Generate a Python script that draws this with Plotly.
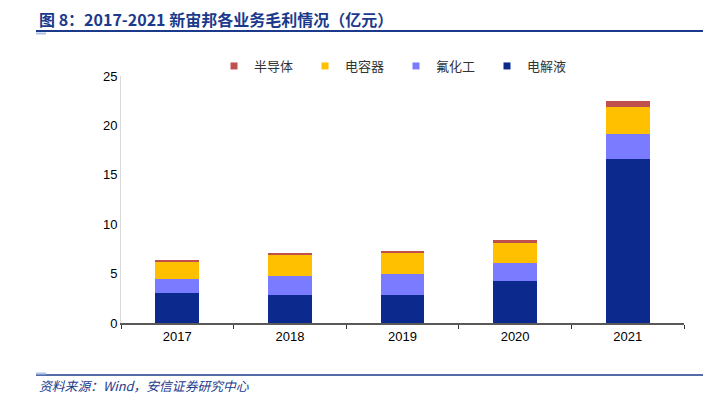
import plotly.graph_objects as go

years = ["2017", "2018", "2019", "2020", "2021"]
electrolyte = [3.0, 2.86, 2.86, 4.25, 16.6]
fluoro = [1.45, 1.86, 2.13, 1.82, 2.56]
capacitor = [1.8, 2.19, 2.09, 2.06, 2.7]
semiconductor = [0.14, 0.17, 0.24, 0.32, 0.61]

series = [
    ("电解液", electrolyte, "#0C2A8E"),
    ("氟化工", fluoro, "#7B7BFF"),
    ("电容器", capacitor, "#FFC000"),
    ("半导体", semiconductor, "#C0504D"),
]

fig = go.Figure()
for name, vals, color in series:
    fig.add_trace(go.Bar(x=years, y=vals, name=name, marker=dict(color=color, line=dict(width=0)),
                         width=0.39, showlegend=False))
# legend entries with small square swatches
for name, vals, color in reversed(series):
    fig.add_trace(go.Scatter(x=[None], y=[None], mode="markers", name=name,
                             marker=dict(symbol="square", size=7, color=color)))

L, R, T, B = 121, 26, 76, 76
W, H = 710, 399
pw, ph = W - L - R, H - T - B

def px(x):
    return (x - L) / pw

def py(y):
    return (H - B - y) / ph

navy = "#1B3A8C"
fig.update_layout(
    width=W, height=H, barmode="stack",
    margin=dict(l=L, r=R, t=T, b=B),
    plot_bgcolor="white", paper_bgcolor="white",
    font=dict(family="Liberation Sans, Noto Sans CJK SC, sans-serif", size=13, color="#000"),
    showlegend=True,
    legend=dict(orientation="h", traceorder="normal", x=px(214), y=py(66), xanchor="left", yanchor="middle",
                font=dict(family="Noto Sans CJK SC", size=13, color="#333"), entrywidth=46, itemwidth=30,
                bgcolor="rgba(0,0,0,0)"),
    xaxis=dict(type="category", showline=True, linecolor="#595959", linewidth=2, tickson="boundaries",
               ticks="outside", ticklen=4, tickcolor="#333", tickwidth=1, showgrid=False,
               tickfont=dict(size=13)),
    yaxis=dict(range=[0, 25], dtick=5, showline=True, linecolor="#D9D9D9", linewidth=1, showgrid=False,
               ticks="", zeroline=False, tickfont=dict(size=13)),
)

fig.add_annotation(xref="paper", yref="paper", x=px(37), y=py(19), xanchor="left", yanchor="middle",
                   text="<b>图 8：2017-2021 新宙邦各业务毛利情况（亿元）</b>", showarrow=False,
                   font=dict(family="Noto Sans CJK SC", size=16, color=navy))
fig.add_annotation(xref="paper", yref="paper", x=px(37), y=py(385), xanchor="left", yanchor="middle",
                   text="<i>资料来源：Wind，安信证券研究中心</i>", showarrow=False,
                   font=dict(family="Noto Sans CJK SC", size=12.8, color=navy))

fig.add_shape(type="line", xref="paper", yref="paper", x0=px(36), x1=px(703), y0=py(31), y1=py(31),
              line=dict(color=navy, width=2))
fig.add_shape(type="line", xref="paper", yref="paper", x0=px(36), x1=px(46), y0=py(33.5), y1=py(33.5),
              line=dict(color="#AFC3E8", width=2))
fig.add_shape(type="line", xref="paper", yref="paper", x0=px(36), x1=px(703), y0=py(375), y1=py(375),
              line=dict(color=navy, width=1.5))
fig.add_shape(type="line", xref="paper", yref="paper", x0=px(36), x1=px(46), y0=py(373.5), y1=py(373.5),
              line=dict(color="#AFC3E8", width=2))

fig.write_html("out.html", config={"displayModeBar": False},
               post_script="document.body.style.margin='0';document.body.style.overflow='hidden';")
